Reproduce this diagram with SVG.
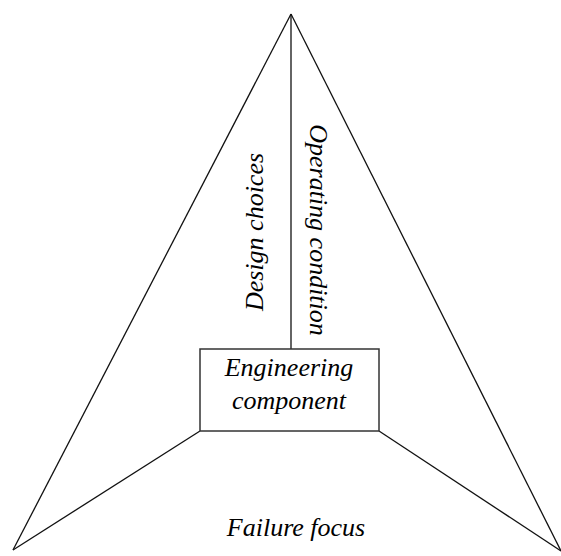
<svg xmlns="http://www.w3.org/2000/svg" width="561" height="556" viewBox="0 0 561 556">
<style>
.ln{fill:none;stroke:#111;stroke-width:1.3}
.bx{fill:#fff;stroke:#333;stroke-width:1.5}
.t{font-family:"Liberation Serif","Times New Roman",serif;font-style:italic;font-size:26px;fill:#000;text-anchor:middle}
</style>
<rect width="561" height="556" fill="#fff"/>
<g id="connectors">
<line class="ln" x1="291" y1="14" x2="13" y2="550"/>
<line class="ln" x1="291" y1="14" x2="561" y2="551"/>
<line class="ln" x1="291" y1="14" x2="291" y2="349"/>
<line class="ln" x1="200" y1="431" x2="13" y2="550"/>
<line class="ln" x1="379" y1="431" x2="561" y2="551"/>
</g>
<g id="engineering-component">
<rect class="bx" x="200" y="349" width="179" height="82"/>
<text class="t" x="289" y="376">Engineering</text>
<text class="t" x="289" y="409">component</text>
</g>
<g id="design-choices">
<text class="t" transform="translate(263,232) rotate(-90)">Design choices</text>
</g>
<g id="operating-condition">
<text class="t" transform="translate(310,230) rotate(90)">Operating condition</text>
</g>
<g id="failure-focus">
<text class="t" x="296" y="536">Failure focus</text>
</g>
</svg>
